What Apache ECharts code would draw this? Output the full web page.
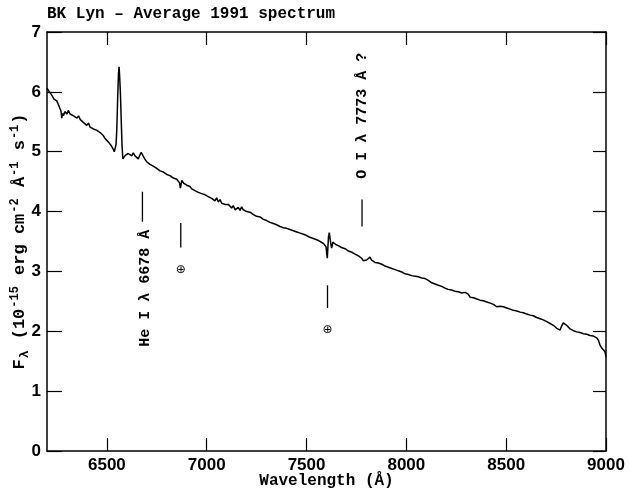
<!DOCTYPE html>
<html>
<head>
<meta charset="utf-8">
<script src="https://cdn.jsdelivr.net/npm/echarts@6/dist/echarts.min.js"></script>
<style>
  html, body { margin: 0; background: #fff; }
  #spectrum { width: 630px; height: 490px; }
</style>
</head>
<body>
<div id="spectrum"></div>
<script>
// wavelength (Angstrom) and flux (1e-15 erg cm^-2 A^-1 s^-1)
const wavelength = [
  6200, 6212, 6223, 6235, 6249, 6258, 6265, 6270, 6274, 6278, 6282, 6290, 6300, 6307, 6316, 6325, 6333, 6340, 6350, 6358,
  6366, 6374, 6382, 6390, 6399, 6408, 6416, 6424, 6432, 6440, 6448, 6456, 6466, 6474, 6482, 6491, 6500, 6508, 6516, 6524,
  6532, 6537, 6542, 6546, 6550, 6554, 6558, 6561, 6564, 6568, 6572, 6576, 6580, 6586, 6592, 6599, 6607, 6616, 6624, 6632,
  6641, 6649, 6657, 6665, 6672, 6677, 6683, 6691, 6700, 6708, 6716, 6724, 6732, 6741, 6750, 6758, 6766, 6775, 6783, 6791,
  6800, 6808, 6816, 6825, 6833, 6841, 6850, 6858, 6864, 6868, 6871, 6875, 6880, 6886, 6891, 6900, 6908, 6916, 6925, 6933,
  6941, 6950, 6958, 6967, 6975, 6983, 6992, 7000, 7008, 7016, 7025, 7033, 7041, 7050, 7058, 7067, 7075, 7083, 7092, 7100,
  7108, 7117, 7125, 7133, 7142, 7150, 7158, 7167, 7175, 7183, 7192, 7200, 7208, 7217, 7225, 7234, 7242, 7250, 7258, 7267,
  7276, 7284, 7292, 7300, 7309, 7317, 7325, 7334, 7342, 7350, 7359, 7367, 7375, 7384, 7392, 7401, 7409, 7417, 7426, 7434,
  7443, 7451, 7460, 7468, 7476, 7485, 7493, 7500, 7509, 7517, 7526, 7534, 7543, 7551, 7560, 7568, 7576, 7584, 7592, 7598,
  7601, 7604, 7607, 7610, 7614, 7618, 7622, 7626, 7632, 7639, 7646, 7653, 7659, 7667, 7675, 7684, 7693, 7701, 7710, 7718,
  7727, 7735, 7743, 7752, 7760, 7768, 7776, 7784, 7793, 7801, 7810, 7818, 7826, 7835, 7843, 7851, 7860, 7868, 7877, 7885,
  7893, 7902, 7910, 7918, 7927, 7935, 7944, 7952, 7960, 7969, 7977, 7985, 7994, 8002, 8010, 8018, 8027, 8035, 8044, 8052,
  8060, 8069, 8077, 8085, 8094, 8102, 8110, 8119, 8127, 8135, 8144, 8152, 8160, 8169, 8177, 8185, 8194, 8202, 8210, 8219,
  8227, 8235, 8244, 8252, 8260, 8269, 8277, 8285, 8294, 8302, 8310, 8319, 8327, 8336, 8344, 8353, 8361, 8369, 8378, 8386,
  8394, 8403, 8411, 8420, 8428, 8436, 8445, 8453, 8461, 8470, 8478, 8486, 8494, 8503, 8511, 8520, 8528, 8536, 8545, 8553,
  8561, 8570, 8578, 8586, 8595, 8603, 8611, 8620, 8628, 8636, 8645, 8653, 8661, 8670, 8678, 8686, 8695, 8703, 8711, 8720,
  8728, 8736, 8745, 8753, 8761, 8770, 8778, 8786, 8795, 8803, 8812, 8820, 8828, 8837, 8845, 8853, 8862, 8870, 8879, 8887,
  8895, 8904, 8912, 8920, 8929, 8937, 8946, 8954, 8962, 8970, 8979, 8987, 8995, 9000
]
const flux = [
  6.06, 6.00, 5.95, 5.88, 5.85, 5.78, 5.77, 5.68, 5.56, 5.64, 5.60, 5.67, 5.63, 5.69, 5.63, 5.66, 5.60, 5.63, 5.56, 5.60,
  5.54, 5.55, 5.49, 5.52, 5.44, 5.48, 5.41, 5.44, 5.38, 5.39, 5.36, 5.34, 5.32, 5.29, 5.27, 5.22, 5.21, 5.16, 5.15, 5.09,
  5.04, 5.00, 5.02, 5.12, 5.40, 5.90, 6.30, 6.42, 6.25, 5.95, 5.50, 5.10, 4.88, 4.86, 4.94, 4.93, 4.97, 4.96, 4.93, 4.98,
  4.93, 4.92, 4.88, 4.94, 4.99, 5.00, 4.92, 4.87, 4.83, 4.84, 4.79, 4.79, 4.76, 4.77, 4.72, 4.73, 4.68, 4.71, 4.66, 4.67,
  4.62, 4.64, 4.60, 4.61, 4.56, 4.58, 4.54, 4.53, 4.48, 4.39, 4.44, 4.52, 4.49, 4.47, 4.45, 4.44, 4.41, 4.42, 4.38, 4.39,
  4.35, 4.36, 4.32, 4.35, 4.30, 4.33, 4.28, 4.30, 4.25, 4.27, 4.22, 4.24, 4.18, 4.23, 4.16, 4.20, 4.14, 4.17, 4.12, 4.15,
  4.12, 4.11, 4.06, 4.10, 4.03, 4.04, 4.07, 4.02, 4.08, 4.03, 4.06, 4.00, 4.02, 3.99, 3.98, 3.95, 3.96, 3.92, 3.94, 3.91,
  3.92, 3.87, 3.90, 3.85, 3.86, 3.82, 3.85, 3.80, 3.81, 3.78, 3.79, 3.75, 3.78, 3.73, 3.76, 3.72, 3.73, 3.70, 3.71, 3.68,
  3.69, 3.66, 3.68, 3.64, 3.65, 3.62, 3.63, 3.60, 3.61, 3.57, 3.59, 3.55, 3.56, 3.53, 3.54, 3.50, 3.51, 3.47, 3.46, 3.41,
  3.30, 3.22, 3.40, 3.58, 3.65, 3.62, 3.45, 3.39, 3.49, 3.50, 3.45, 3.48, 3.43, 3.44, 3.40, 3.43, 3.38, 3.39, 3.34, 3.37,
  3.32, 3.33, 3.29, 3.30, 3.26, 3.27, 3.22, 3.18, 3.16, 3.19, 3.21, 3.24, 3.19, 3.19, 3.15, 3.18, 3.14, 3.16, 3.12, 3.13,
  3.09, 3.11, 3.07, 3.08, 3.05, 3.07, 3.03, 3.05, 3.01, 3.03, 2.99, 3.00, 2.96, 2.99, 2.95, 2.97, 2.93, 2.95, 2.92, 2.93,
  2.91, 2.93, 2.89, 2.91, 2.88, 2.89, 2.85, 2.86, 2.81, 2.83, 2.79, 2.81, 2.77, 2.79, 2.75, 2.76, 2.72, 2.74, 2.70, 2.72,
  2.69, 2.71, 2.67, 2.69, 2.66, 2.67, 2.64, 2.67, 2.65, 2.62, 2.62, 2.57, 2.60, 2.56, 2.58, 2.54, 2.56, 2.52, 2.54, 2.51,
  2.52, 2.49, 2.50, 2.47, 2.49, 2.45, 2.47, 2.41, 2.44, 2.42, 2.45, 2.41, 2.42, 2.39, 2.40, 2.37, 2.39, 2.35, 2.37, 2.34,
  2.35, 2.32, 2.34, 2.31, 2.32, 2.29, 2.31, 2.27, 2.29, 2.26, 2.27, 2.23, 2.25, 2.21, 2.23, 2.19, 2.21, 2.16, 2.17, 2.13,
  2.14, 2.10, 2.11, 2.05, 2.06, 2.02, 2.09, 2.14, 2.16, 2.10, 2.08, 2.04, 2.06, 2.01, 2.03, 1.99, 2.01, 1.98, 2.00, 1.96,
  1.99, 1.95, 1.98, 1.93, 1.96, 1.92, 1.95, 1.89, 1.85, 1.77, 1.72, 1.70, 1.66, 1.57
]
const xTicks = [6500, 7000, 7500, 8000, 8500, 9000]

// line identifications: vertical bars at the feature, in data units
const idBars = [
  { x: 6678, from: 4.33, to: 3.83 },
  { x: 6870, from: 3.81, to: 3.40 },
  { x: 7605, from: 2.77, to: 2.39 },
  { x: 7778, from: 4.20, to: 3.75 }
]
const idLabels = [
  { x: 6690, y: 2.72, text: 'He I λ 6678 Å' },
  { x: 7778, y: 5.60, text: 'O I λ 7773 Å ?' }
]
const telluric = [
  { x: 6870, y: 3.02 },
  { x: 7605, y: 2.02 }
]

const mono = 'Liberation Mono'
const sans = 'Liberation Sans'

let chart = echarts.init(document.getElementById('spectrum'), null, { renderer: 'canvas' })

let frameAxis = {
  type: 'value',
  axisLine: { show: true, onZero: false, lineStyle: { color: '#000', width: 1.5 } },
  splitLine: { show: false }
}

let barSeries = idBars.map(b => ({
  type: 'line',
  symbol: 'none',
  silent: true,
  lineStyle: { color: '#000', width: 1.3 },
  data: [[b.x, b.from], [b.x, b.to]]
}))

chart.setOption({
  animation: false,
  title: {
    text: 'BK Lyn – Average 1991 spectrum',
    left: 47,
    top: 6,
    padding: 0,
    textStyle: { fontFamily: mono, fontWeight: 'bold', fontSize: 16, color: '#000' }
  },
  grid: { left: 47, right: 24, top: 32, bottom: 39, outerBoundsMode: 'none' },
  xAxis: [
    Object.assign({}, frameAxis, {
      position: 'bottom',
      min: 6200,
      max: 9000,
      axisTick: { inside: true, length: 13, customValues: xTicks, lineStyle: { color: '#000', width: 1.2 } },
      axisLabel: {
        customValues: xTicks,
        formatter: v => String(v),
        color: '#000', fontFamily: sans, fontWeight: 'bold', fontSize: 17, margin: 6
      },
      name: 'Wavelength (Å)',
      nameLocation: 'middle',
      nameGap: 22,
      nameMoveOverlap: false,
      nameTextStyle: { fontFamily: mono, fontWeight: 'bold', fontSize: 16, color: '#000' }
    }),
    Object.assign({}, frameAxis, {
      position: 'top',
      min: 6200,
      max: 9000,
      axisTick: { inside: true, length: 13, customValues: xTicks, lineStyle: { color: '#000', width: 1.2 } },
      axisLabel: { show: false }
    })
  ],
  yAxis: [
    Object.assign({}, frameAxis, {
      position: 'left',
      min: 0,
      max: 7,
      interval: 1,
      axisTick: { inside: true, length: 15, lineStyle: { color: '#000', width: 1.2 } },
      axisLabel: { formatter: v => String(v), color: '#000', fontFamily: sans, fontWeight: 'bold', fontSize: 17, margin: 6 },
      name: '{t|F}{s|λ}{t| (10}{u|-15}{t| erg cm}{u|-2}{t| Å}{u|-1}{t| s}{u|-1}{t|)}',
      nameLocation: 'middle',
      nameRotate: 90,
      nameGap: 16,
      nameMoveOverlap: false,
      nameTextStyle: {
        rich: {
          t: { fontFamily: mono, fontWeight: 'bold', fontSize: 17, color: '#000', lineHeight: 22 },
          u: { fontFamily: mono, fontWeight: 'bold', fontSize: 12, color: '#000', lineHeight: 12, verticalAlign: 'top', padding: [0, 1] },
          s: { fontFamily: mono, fontWeight: 'bold', fontSize: 13, color: '#000', lineHeight: 12, verticalAlign: 'bottom', padding: [0, 1] }
        }
      }
    }),
    Object.assign({}, frameAxis, {
      position: 'right',
      min: 0,
      max: 7,
      interval: 1,
      axisTick: { inside: true, length: 13, lineStyle: { color: '#000', width: 1.2 } },
      axisLabel: { show: false }
    })
  ],
  series: [
    {
      name: 'spectrum',
      type: 'line',
      symbol: 'none',
      lineStyle: { color: '#000', width: 1.5 },
      data: wavelength.map((w, i) => [w, flux[i]])
    }
  ].concat(barSeries)
})

// rotated labels and earth symbols placed through the axis scales
let graphics = []
idLabels.forEach(l => {
  let p = chart.convertToPixel({ xAxisIndex: 0, yAxisIndex: 0 }, [l.x, l.y])
  graphics.push({
    type: 'text',
    x: p[0],
    y: p[1],
    rotation: Math.PI / 2,
    style: {
      text: l.text,
      fill: '#000',
      font: 'bold 15px "' + mono + '"',
      align: 'center',
      verticalAlign: 'middle'
    }
  })
})
telluric.forEach(t => {
  let p = chart.convertToPixel({ xAxisIndex: 0, yAxisIndex: 0 }, [t.x, t.y])
  graphics.push({
    type: 'text',
    x: p[0],
    y: p[1],
    style: {
      text: '⊕',
      fill: '#000',
      font: '12px "DejaVu Sans"',
      align: 'center',
      verticalAlign: 'middle'
    }
  })
})
chart.setOption({ graphic: graphics })
</script>
</body>
</html>
